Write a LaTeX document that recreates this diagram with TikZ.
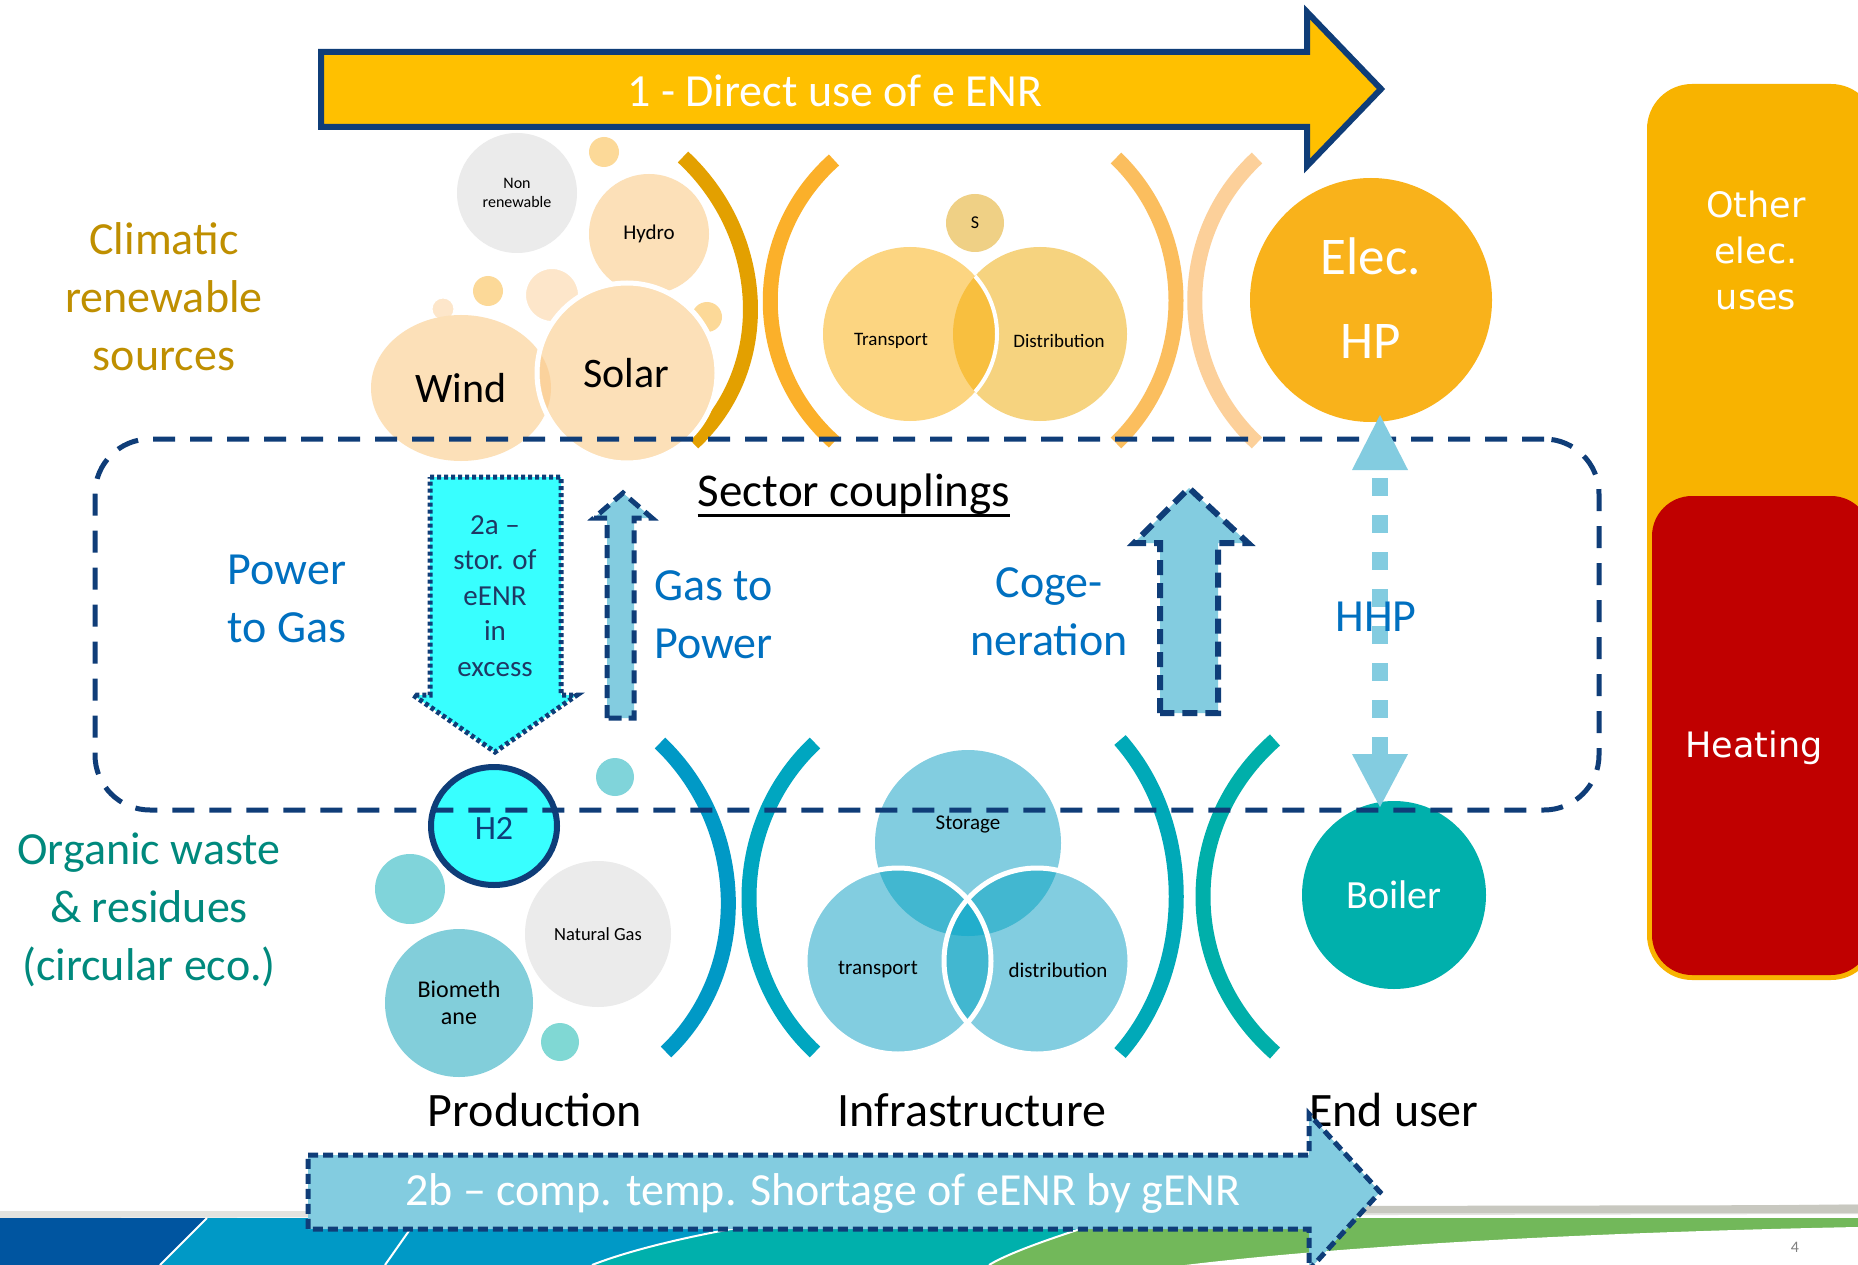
\documentclass[tikz,border=0pt]{standalone}
\usepackage{fontspec}
\setmainfont{Carlito}
\newfontfamily\dvs{DejaVu Sans}
\usetikzlibrary{shapes.geometric}
\definecolor{navy}{RGB}{15,61,120}
\definecolor{navytxt}{RGB}{31,56,100}
\definecolor{arrowgold}{HTML}{FFC000}
\definecolor{ptgblue}{HTML}{0070C0}
\definecolor{orgteal}{HTML}{00897D}
\definecolor{climgold}{HTML}{BF8F00}
\definecolor{lblue}{HTML}{83CCE0}
\definecolor{cyanf}{HTML}{38FFFF}
\definecolor{peach}{HTML}{FCE0B8}
\definecolor{peachd}{HTML}{FBD29C}
\definecolor{peachl}{HTML}{FDE6CA}
\definecolor{lorange}{HTML}{FCD998}
\definecolor{ngray}{HTML}{EBEBEB}
\definecolor{stan}{HTML}{EFD085}
\definecolor{transc}{HTML}{FCD581}
\definecolor{distc}{HTML}{F6D37F}
\definecolor{ovc}{HTML}{F8BF3F}
\definecolor{elecor}{HTML}{F9B21B}
\definecolor{bra}{RGB}{227,160,0}
\definecolor{brb}{HTML}{FBB02A}
\definecolor{brc}{HTML}{FBBE5E}
\definecolor{brd}{HTML}{FCD09A}
\definecolor{bre}{HTML}{0099C6}
\definecolor{brf}{HTML}{00A6C0}
\definecolor{brg}{HTML}{00A9B8}
\definecolor{brh}{HTML}{00AFAA}
\definecolor{tealsm}{HTML}{80D4DA}
\definecolor{tealsm2}{HTML}{80D8D4}
\definecolor{bioc}{HTML}{82CEDA}
\definecolor{infc}{HTML}{82CDE0}
\definecolor{infov}{HTML}{42B7D0}
\definecolor{infov3}{HTML}{22AECC}
\definecolor{boilc}{HTML}{00B0AC}
\definecolor{barorange}{HTML}{F8B300}
\definecolor{barred}{HTML}{C00000}
\definecolor{ftdblue}{HTML}{0055A0}
\definecolor{ftblue}{HTML}{0099C6}
\definecolor{ftteal}{HTML}{00B0AC}
\definecolor{ftgreen}{HTML}{72B85A}
\definecolor{ftgray}{HTML}{C8C8C0}
\begin{document}
\begin{tikzpicture}[x=1pt,y=-1pt,
  bub/.style={circle,inner sep=0pt,outer sep=0pt},
  ell/.style={ellipse,inner sep=0pt,outer sep=0pt},
  brk/.style={line width=15pt,line cap=butt},
  bigtxt/.style={font=\fontsize{46}{58}\selectfont,align=center,inner sep=0pt},
  cattxt/.style={font=\fontsize{48}{58}\selectfont,inner sep=0pt},
  smalltxt/.style={font=\fontsize{19}{23}\selectfont,inner sep=0pt},
  blockarrow/.style={draw=navy,line width=5pt,line join=miter}
]
\clip (0,0) rectangle (1858,1265);
\fill[white] (0,0) rectangle (1858,1265);

% ---------- footer band ----------
\fill[ftgray!50] (0,1211) -- (1300,1211) -- (1858,1204) -- (1858,1214) -- (0,1218) -- cycle;
\fill[ftgray] (1330,1206) -- (1858,1205) -- (1858,1213) -- (1330,1213) -- cycle;
\fill[ftgreen] (0,1218) rectangle (1858,1265);
\fill[ftteal] (0,1218) -- (1115,1218) .. controls (1060,1235) and (1010,1252) .. (989,1265) -- (0,1265) -- cycle;
\fill[ftblue] (0,1218) -- (800,1218) .. controls (700,1232) and (630,1250) .. (592,1265) -- (0,1265) -- cycle;
\fill[ftdblue] (0,1218) -- (207,1218) -- (160,1265) -- (0,1265) -- cycle;
\draw[white,line width=2pt] (207,1218) -- (160,1265);
\draw[white,line width=2pt] (418,1218) -- (385,1265);
\draw[white,line width=2pt] (800,1218) .. controls (700,1232) and (630,1250) .. (592,1265);
\draw[white,line width=2pt] (1115,1218) .. controls (1060,1235) and (1010,1252) .. (989,1265);
\fill[white] (1858,1227) .. controls (1600,1232) and (1350,1245) .. (1185,1265) -- (1858,1265) -- cycle;
\node[font=\fontsize{16}{18}\selectfont,text=gray] (pgnum) at (1795,1247) {4};

% ---------- right bars ----------
\fill[barorange,rounded corners=45pt] (1647,84) rectangle (1876,980);
\fill[barred,rounded corners=40pt] (1652,496) rectangle (1871,975);
\node[font=\dvs\fontsize{35}{46}\selectfont,text=white,align=center] (other) at (1756,250) {Other\\elec.\\uses};
\node[font=\dvs\fontsize{35}{42}\selectfont,text=white] (heating) at (1754,748) {Heating};

% ---------- brackets ----------
\draw[brk,bra] (683,157) .. controls (766,234) and (776,366) .. (693,443);
\draw[brk,brb] (834,160) .. controls (749,236) and (749,366) .. (834,442);
\draw[brk,brc] (1116,158) .. controls (1196,235) and (1196,366) .. (1116,443);
\draw[brk,brd] (1257,158) .. controls (1174,235) and (1174,366) .. (1257,443);
\draw[brk,bre] (660,743) .. controls (747,826) and (753,969) .. (666,1052);
\draw[brk,brf] (815,743) .. controls (727,826) and (727,969) .. (815,1052);
\draw[brk,brg] (1120,740) .. controls (1195,825) and (1195,968) .. (1120,1053);
\draw[brk,brh] (1275,740) .. controls (1179,825) and (1179,968) .. (1275,1053);

% ---------- production (top) ----------
\node[bub,fill=ngray,minimum size=120pt,font=\fontsize{16}{19}\selectfont,align=center] (nonren) at (517,193) {Non\\renewable};
\fill[lorange] (604,152) circle[radius=15pt];
\node[bub,fill=peach,minimum size=120pt,font=\fontsize{21}{25}\selectfont] (hydro) at (649,234) {Hydro};
\fill[lorange] (707,317) circle[radius=15pt];
\fill[lorange] (488,291) circle[radius=15pt];
\filldraw[fill=peachl,draw=white,line width=3pt] (443,309) circle[radius=12pt];
\filldraw[fill=peachl,draw=white,line width=4pt] (552,295) circle[radius=28pt];
\node[ell,fill=peach,minimum width=180pt,minimum height=146pt,font=\fontsize{42}{50}\selectfont] (wind) at (461,388) {Wind};
\node[bub,fill=peach,draw=white,line width=5pt,minimum size=180pt] (solar) at (627,373) {};
\begin{scope}
\clip (461,388) ellipse[x radius=90pt,y radius=73pt];
\fill[peachd] (627,373) circle[radius=87pt];
\end{scope}
\node[font=\fontsize{42}{50}\selectfont,inner sep=0pt] (solart) at (626,373) {Solar};

% ---------- infrastructure (top) ----------
\node[bub,fill=stan,minimum size=58pt,font=\fontsize{18}{22}\selectfont] (stor1) at (975,223) {S};
\fill[distc] (1040,334) circle[radius=87pt];
\fill[transc] (910,334) circle[radius=87pt];
\begin{scope}
\clip (1040,334) circle[radius=87pt];
\fill[ovc] (910,334) circle[radius=87pt];
\draw[white,line width=4pt] (910,334) circle[radius=87pt];
\end{scope}
\node[smalltxt] (ttrans) at (891,341) {Transport};
\node[smalltxt] (tdist) at (1059,341) {Distribution};

% ---------- end user (top) ----------
\node[ell,fill=elecor,minimum width=242pt,minimum height=244pt] (elec) at (1371,300) {};
\node[font=\fontsize{53}{60}\selectfont,text=white,inner sep=0pt] (elect) at (1371,256) {Elec.};
\node[font=\fontsize{53}{60}\selectfont,text=white,inner sep=0pt] (hpt) at (1371,341) {HP};

% ---------- production (bottom) ----------
\fill[tealsm] (615,777) circle[radius=19pt];
\fill[tealsm] (410,889) circle[radius=35pt];
\node[bub,fill=ngray,minimum size=146pt,font=\fontsize{18.5}{22}\selectfont] (natgas) at (598,934) {Natural Gas};
\node[bub,fill=bioc,minimum size=148pt,font=\fontsize{24}{27}\selectfont,align=center] (biometh) at (459,1003) {Biometh\\ane};
\fill[tealsm2] (560,1042) circle[radius=19pt];

% ---------- infrastructure (bottom) ----------
\fill[infc] (968,843) circle[radius=93pt];
\fill[infc] (898,961) circle[radius=93pt];
\fill[infc] (1037,961) circle[radius=93pt];
\begin{scope}
\clip (968,843) circle[radius=93pt];
\fill[infov] (898,961) circle[radius=93pt];
\fill[infov] (1037,961) circle[radius=93pt];
\end{scope}
\begin{scope}
\clip (898,961) circle[radius=93pt];
\fill[infov] (1037,961) circle[radius=93pt];
\clip (968,843) circle[radius=93pt];
\fill[infov3] (1037,961) circle[radius=93pt];
\end{scope}
\draw[white,line width=5pt] (898,961) circle[radius=93pt];
\draw[white,line width=5pt] (1037,961) circle[radius=93pt];
\node[font=\fontsize{21}{25}\selectfont,inner sep=0pt] (tstorage) at (968,824) {Storage};
\node[font=\fontsize{21}{25}\selectfont,inner sep=0pt] (ttransb) at (878,970) {transport};
\node[font=\fontsize{21}{25}\selectfont,inner sep=0pt] (tdistb) at (1058,970) {distribution};

% ---------- end user (bottom) ----------
\node[ell,fill=boilc,minimum width=184pt,minimum height=188pt,font=\fontsize{40}{46}\selectfont,text=white] (boiler) at (1394,895) {Boiler};

% H2 bubble
\node[ell,fill=cyanf,draw=navy,line width=6pt,minimum width=126pt,minimum height=118pt] (h2) at (494,826) {};
\node[font=\fontsize{34}{40}\selectfont,text=navy,inner sep=0pt] (h2t) at (494,828) {H2};

% ---------- sector couplings box ----------
\node[draw=navy,line width=5pt,dash pattern=on 22pt off 15pt,rounded corners=55pt,
      minimum width=1504pt,minimum height=371pt,inner sep=0pt] (sc) at (847,624.5) {};

% ---------- top arrow ----------
\draw[fill=arrowgold,draw=navy,line width=6pt,line join=miter]
  (321,52) -- (1307,52) -- (1307,12) -- (1381,89) -- (1307,166) -- (1307,127) -- (321,127) -- cycle;
\node[bigtxt,text=white] (direct) at (835,91) {1 - Direct use of e ENR};

% ---------- 2a arrow ----------
\draw[blockarrow,fill=cyanf,dash pattern=on 4pt off 3pt]
  (430,477) -- (561,477) -- (561,695) -- (577,695) -- (495,752) -- (413,695) -- (430,695) -- cycle;
\node[font=\fontsize{29}{35.5}\selectfont,text=navytxt,align=center,inner sep=0pt] (twoa) at (495,596)
  {2a --\\stor. of\\eENR\\in\\excess};

% ---------- gas to power arrow ----------
\draw[blockarrow,fill=lblue,dash pattern=on 13pt off 7pt]
  (607,718) -- (607,518) -- (594,518) -- (623,493) -- (652,518) -- (634,518) -- (634,718) -- cycle;

% ---------- cogeneration arrow ----------
\draw[blockarrow,line width=6pt,fill=lblue,dash pattern=on 15pt off 8pt]
  (1160,713) -- (1160,543) -- (1134,543) -- (1189,488) -- (1248,543) -- (1218,543) -- (1218,713) -- cycle;

% ---------- HHP double arrow ----------
\coordinate (hhpA) at (1380,470);
\coordinate (hhpB) at (1380,754);
\draw[lblue,line width=16pt,dash pattern=on 18pt off 19pt] ([yshift=-8pt]hhpA) -- (hhpB);
\fill[lblue] (1352,470) -- (1408,470) -- (1380,415) -- cycle;
\fill[lblue] (1352,754) -- (1408,754) -- (1380,807) -- cycle;

% ---------- coupling labels ----------
\node[font=\fontsize{47}{56}\selectfont,inner sep=0pt] (sect) at (854,494) {Sector couplings};
\draw[line width=2.5pt] ([yshift=-9pt]sect.base west) -- ([yshift=-9pt]sect.base east);
\node[bigtxt,text=ptgblue] (p2g) at (287,599) {Power\\to Gas};
\node[bigtxt,text=ptgblue,align=left,anchor=west] (g2p) at (654,615) {Gas to\\Power};
\node[bigtxt,text=ptgblue] (cogen) at (1049,612) {Coge-\\neration};
\node[bigtxt,text=ptgblue] (hhp) at (1376,617) {HHP};

% ---------- side labels ----------
\node[bigtxt,text=climgold] (climatic) at (164,297) {Climatic\\renewable\\sources};
\node[bigtxt,text=orgteal] (organic) at (149,910) {Organic waste\\\& residues\\(circular eco.)};

% ---------- column labels ----------
\node[cattxt] (prod) at (535,1110) {Production};
\node[cattxt] (infra) at (972,1110) {Infrastructure};
\node[cattxt] (enduser) at (1394,1110) {End user};

% ---------- 2b arrow ----------
\draw[fill=lblue,draw=navy,line width=5pt,line join=miter,dash pattern=on 10pt off 5pt]
  (308,1155) -- (1309,1155) -- (1309,1114) -- (1380,1192) -- (1309,1270) -- (1309,1229) -- (308,1229) -- cycle;
\node[bigtxt,text=white] (twob) at (823,1193) {2b -- comp. temp. Shortage of eENR by gENR};
\end{tikzpicture}
\end{document}
